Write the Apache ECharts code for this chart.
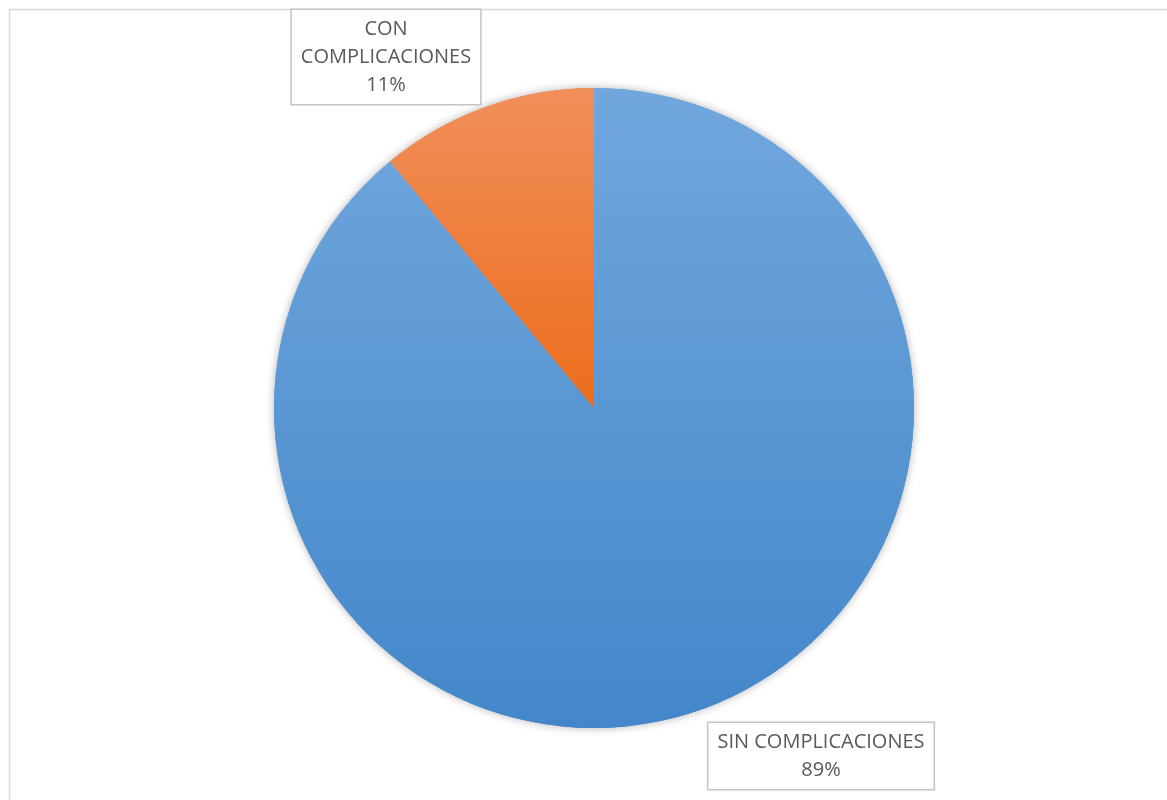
<!DOCTYPE html>
<html>
<head>
<meta charset="utf-8">
<script src="https://cdn.jsdelivr.net/npm/echarts@6/dist/echarts.min.js"></script>
<style>
  html, body { margin: 0; padding: 0; background: #ffffff; }
  #chart { width: 1167px; height: 800px; }
</style>
</head>
<body>
<div id="chart"></div>
<script>
// Categories and their shares (%)
const categories = ['SIN COMPLICACIONES', 'CON COMPLICACIONES'];
const shares = [89, 11];

// Slice fills: light top to darker bottom
const sliceColors = [
  ['#71a7dd', '#4387ca'],
  ['#f18f5b', '#ec6d1c']
];

// Label anchor points for each category's call-out box
const labelAnchors = [
  [821, 756],
  [386, 57]
];

const pieCenter = [594, 408];
const pieRadius = 320;

const data = categories.map((name, i) => ({
  name: name,
  value: shares[i],
  itemStyle: {
    color: {
      type: 'linear', x: 0, y: 0, x2: 0, y2: 1,
      colorStops: [
        { offset: 0, color: sliceColors[i][0] },
        { offset: 1, color: sliceColors[i][1] }
      ]
    }
  }
}));

const chart = echarts.init(document.getElementById('chart'), null, { renderer: 'canvas' });

chart.setOption({
  backgroundColor: '#ffffff',
  animation: false,
  graphic: [{
    type: 'rect',
    shape: { x: 9.5, y: 9.5, width: 1200, height: 900 },
    style: { fill: 'none', stroke: '#d9d9d9', lineWidth: 1.5 },
    silent: true
  }],
  series: [
    // soft shadow layer under the pie
    {
      type: 'pie',
      center: pieCenter,
      radius: [0, pieRadius],
      startAngle: 90,
      clockwise: true,
      data: data,
      silent: true,
      z: 1,
      itemStyle: {
        shadowBlur: 9,
        shadowColor: 'rgba(0,0,0,0.3)'
      },
      label: { show: false },
      labelLine: { show: false }
    },
    // the pie itself with its call-out labels
    {
      type: 'pie',
      center: pieCenter,
      radius: [0, pieRadius],
      startAngle: 90,
      clockwise: true,
      data: data,
      z: 2,
      itemStyle: { borderWidth: 0 },
      label: {
        show: true,
        position: 'outside',
        formatter: function (p) {
          const name = p.dataIndex === 1 ? p.name.replace(' ', '\n') : p.name;
          return name + '\n' + Math.round(p.percent) + '%';
        },
        fontFamily: 'Open Sans',
        fontSize: 20,
        lineHeight: 28,
        color: '#595959',
        align: 'center',
        backgroundColor: '#ffffff',
        borderColor: '#c4c4c4',
        borderWidth: 1.5,
        padding: [5, 9, 5, 9]
      },
      labelLine: { show: false },
      labelLayout: function (params) {
        const a = labelAnchors[params.dataIndex];
        return { x: a[0], y: a[1], align: 'center', verticalAlign: 'middle' };
      },
      emphasis: { disabled: true }
    }
  ]
});
</script>
</body>
</html>
